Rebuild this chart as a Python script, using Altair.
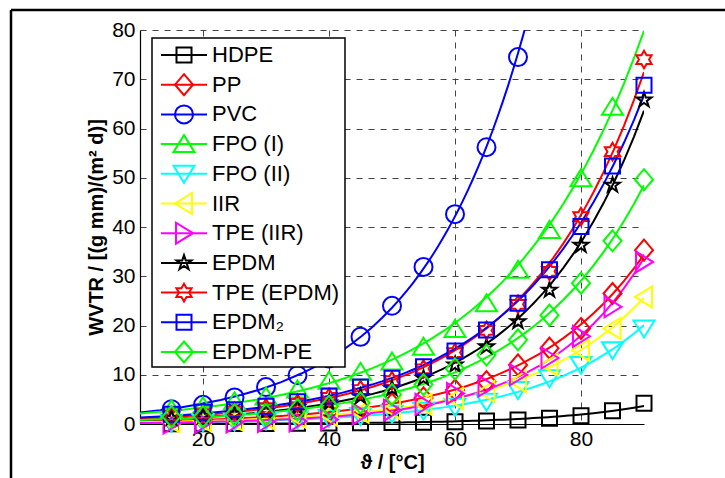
import math
import altair as alt
import pandas as pd

# ---------------- data ----------------
temps = [15, 20, 25, 30, 35, 40, 45, 50, 55, 60, 65, 70, 75, 80, 85, 90]
series = ["HDPE", "PP", "PVC", "FPO (I)", "FPO (II)", "IIR", "TPE (IIR)",
          "EPDM", "TPE (EPDM)", "EPDM₂", "EPDM-PE"]

hdpe = [0.05, 0.07, 0.09, 0.12, 0.15, 0.2, 0.25, 0.3, 0.35, 0.45, 0.6, 0.8, 1.15, 1.7, 2.7, 4.2]
pp = [0.7, 0.9, 1.15, 1.5, 1.9, 2.5, 3.2, 4.1, 5.3, 6.9, 8.6, 12.0, 15.4, 19.4, 26.5, 35.3]
pvc = [3.0, 3.9, 5.4, 7.5, 9.9, 13.3, 17.7, 24.0, 31.9, 42.6, 56.2, 74.5]  # 15 .. 70
fpo1 = [3.0, 3.6, 4.6, 5.6, 7.0, 8.8, 10.6, 12.7, 15.7, 19.3, 24.5, 31.3, 39.4, 49.9, 64.4, 83.0]
fpo2 = [0.3, 0.4, 0.5, 0.7, 0.9, 1.2, 1.6, 2.1, 2.7, 3.5, 4.5, 6.9, 9.3, 12.0, 15.0, 19.4]
iir = [0.45, 0.6, 0.8, 1.1, 1.4, 1.8, 2.4, 3.1, 4.0, 5.2, 6.6, 8.6, 12.0, 15.0, 19.4, 25.8]
tpe_iir = [0.2, 0.3, 0.4, 0.5, 0.6, 0.9, 2.0, 2.8, 4.0, 6.2, 7.7, 10.0, 13.4, 17.8, 23.8, 32.9]
epdm = [1.2, 1.6, 2.0, 2.6, 3.4, 4.3, 5.6, 7.2, 9.3, 12.0, 15.7, 20.8, 27.2, 36.3, 48.5, 65.8]
tpe_epdm = [1.7, 2.1, 2.6, 3.3, 4.2, 5.4, 7.0, 8.8, 11.2, 14.5, 19.0, 24.3, 31.0, 42.1, 55.3, 74.0]
epdm2 = [2.0, 2.4, 2.9, 3.6, 4.5, 5.7, 7.5, 9.3, 11.6, 14.8, 19.1, 24.5, 31.3, 40.1, 52.4, 68.8]
epdm_pe = [1.5, 1.5, 1.9, 1.9, 2.9, 3.6, 4.3, 6.0, 8.0, 11.2, 14.0, 17.1, 22.1, 28.6, 37.2, 49.6]

values = [hdpe, pp, pvc, fpo1, fpo2, iir, tpe_iir, epdm, tpe_epdm, epdm2, epdm_pe]
colors = ["#000000", "#ff0000", "#0000ff", "#00ff00", "#00ffff", "#ffff00",
          "#ff00ff", "#000000", "#ff0000", "#0000ff", "#00ff00"]

rows = []
for order, (name, vals) in enumerate(zip(series, values)):
    for t, v in zip(temps, vals):
        rows.append({"series": name, "order": order, "T": t, "W": v})
df = pd.DataFrame(rows)
leg_df = pd.DataFrame({"series": series})
one = pd.DataFrame({"k": [0]})


# ---------------- marker shapes (MATLAB-like, unit = 10 px at size 400) ----------------
def poly(pts):
    return "M" + "L".join(f"{x:.3f},{y:.3f}" for x, y in pts) + "Z"


def star(n, r_out, r_in):
    pts = []
    for k in range(2 * n):
        ang = math.radians(-90 + k * 180.0 / n)
        r = r_out if k % 2 == 0 else r_in
        pts.append((r * math.cos(ang), r * math.sin(ang)))
    return poly(pts)


sq = "M-0.75,-0.75L0.75,-0.75L0.75,0.75L-0.75,0.75Z"
dia = "M0,-1.05L0.9,0L0,1.05L-0.9,0Z"
circ = "M0.9,0A0.9,0.9 0 1,1 -0.9,0A0.9,0.9 0 1,1 0.9,0Z"
tri_up = "M0,-0.9L1.05,0.8L-1.05,0.8Z"
tri_dn = "M0,0.9L1.05,-0.8L-1.05,-0.8Z"
tri_lt = "M-0.9,0L0.8,-1.05L0.8,1.05Z"
tri_rt = "M0.9,0L-0.8,-1.05L-0.8,1.05Z"
penta = star(5, 0.78, 0.30)
hexa = star(6, 0.88, 0.51)
shapes = [sq, dia, circ, tri_up, tri_dn, tri_lt, tri_rt, penta, hexa, sq, dia]

FONT = "Liberation Sans"
cscale = alt.Scale(domain=series, range=colors)
sscale = alt.Scale(domain=series, range=shapes)

xscale = alt.Scale(domain=[10, 90], nice=False, zero=False)
yscale = alt.Scale(domain=[0, 80], nice=False, zero=False)

grid_common = dict(grid=True, gridDash=[6, 6], gridColor="#444444", gridWidth=1,
                   ticks=False, domainColor="black", domainWidth=1.2,
                   labelFont=FONT, labelFontSize=21, labelColor="black",
                   titleFont=FONT, titleFontSize=20, titleFontWeight="bold",
                   titleColor="black", labelFlush=False)

xaxis = alt.Axis(values=[20, 40, 60, 80], title="ϑ / [°C]", labelPadding=4,
                 titlePadding=3, **grid_common)
yaxis = alt.Axis(values=list(range(0, 81, 10)), title="WVTR / [(g mm)/(m² d)]",
                 labelPadding=5, titlePadding=5, **grid_common)

base = alt.Chart(df)

lines = base.transform_regression(
    "T", "W", groupby=["series"], method="exp", extent=[10, 90]
).mark_line(strokeWidth=2, clip=True).encode(
    x=alt.X("T:Q", scale=xscale, axis=xaxis),
    y=alt.Y("W:Q", scale=yscale, axis=yaxis),
    color=alt.Color("series:N", scale=cscale, legend=None),
    detail="series:N",
)

points = base.transform_filter("datum.W <= 80").mark_point(
    filled=False, strokeWidth=2, size=400, opacity=1
).encode(
    x=alt.X("T:Q", scale=xscale),
    y=alt.Y("W:Q", scale=yscale),
    color=alt.Color("series:N", scale=cscale, legend=None),
    shape=alt.Shape("series:N", scale=sscale, legend=None),
    order=alt.Order("order:Q"),
)

main = alt.layer(lines, points)

# ---------------- MATLAB-style legend box ----------------
ly = alt.Y("series:N", scale=alt.Scale(type="point", domain=series, range=[25, 322], padding=0),
           axis=None)

leg_box = alt.Chart(one).mark_rect(fill="white", stroke="black", strokeWidth=1.5).encode(
    x=alt.value(12), x2=alt.value(205), y=alt.value(8), y2=alt.value(337)
)
leg_lines = alt.Chart(leg_df).mark_rule(strokeWidth=2).encode(
    x=alt.value(21), x2=alt.value(67), y=ly,
    color=alt.Color("series:N", scale=cscale, legend=None),
)
leg_pts = alt.Chart(leg_df).mark_point(filled=False, strokeWidth=2, size=400, opacity=1).encode(
    x=alt.value(44), y=ly,
    color=alt.Color("series:N", scale=cscale, legend=None),
    shape=alt.Shape("series:N", scale=sscale, legend=None),
)
leg_txt = alt.Chart(leg_df).mark_text(
    align="left", baseline="middle", font=FONT, fontSize=22, color="black"
).encode(x=alt.value(72), y=ly, text="series:N")

legend = alt.layer(leg_box, leg_lines, leg_pts, leg_txt)

# figure frame (top and left edges visible in the window)
frame_top = alt.Chart(one).mark_rule(color="black", strokeWidth=2.5).encode(
    x=alt.value(-129), x2=alt.value(600), y=alt.value(-20)
)
frame_left = alt.Chart(one).mark_rule(color="black", strokeWidth=2.5).encode(
    x=alt.value(-129), y=alt.value(-20), y2=alt.value(470)
)

chart = alt.layer(main, legend, frame_top, frame_left).resolve_scale(
    y="independent"
).properties(
    width=504, height=394,
    autosize=alt.AutoSizeParams(type="none"),
    padding={"left": 140, "top": 30, "right": 81, "bottom": 54},
    background="white",
).configure_view(stroke=None)

chart.save("out.html", embed_options={"renderer": "svg", "actions": False})
